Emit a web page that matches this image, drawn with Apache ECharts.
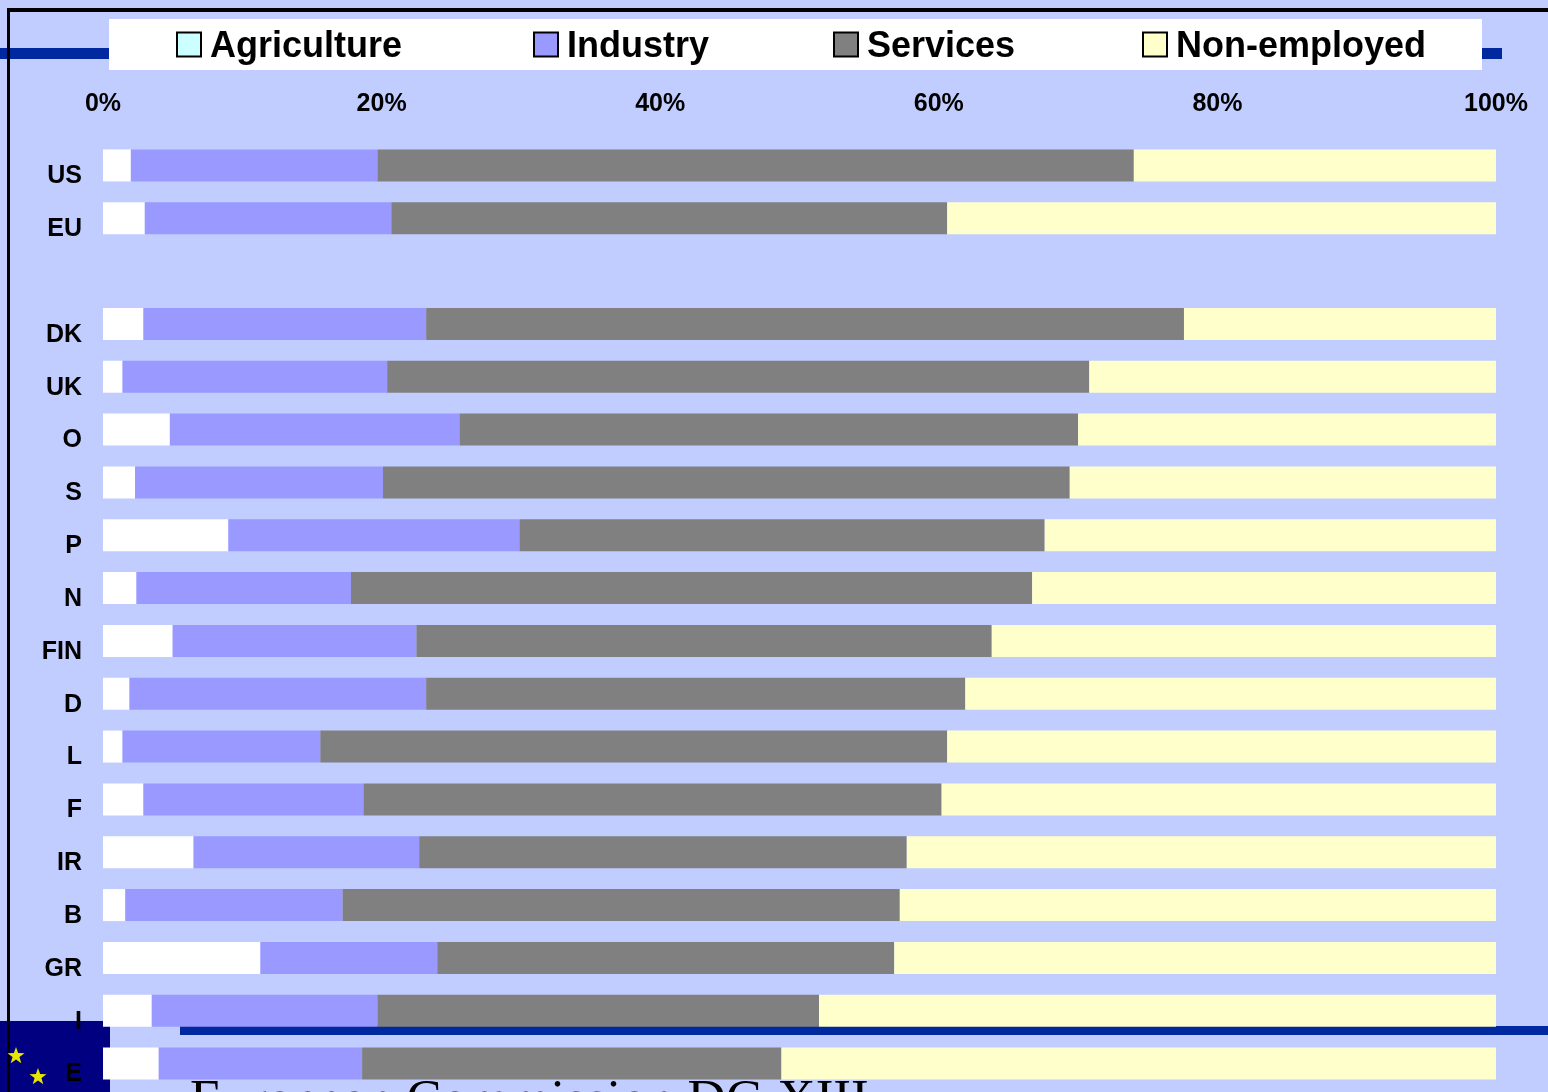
<!DOCTYPE html>
<html><head><meta charset="utf-8">
<style>html,body{margin:0;padding:0;background:#C1CDFF}#c{width:1548px;height:1092px}</style>
<script src="https://cdn.jsdelivr.net/npm/echarts@6/dist/echarts.min.js"></script>
</head><body><div id="c"></div>
<script>
const categories = ['US','EU','','DK','UK','O','S','P','N','FIN','D','L','F','IR','B','GR','I','E'];
const agriculture = [2.0,3.0,null,2.9,1.4,4.8,2.3,9.0,2.4,5.0,1.9,1.4,2.9,6.5,1.6,11.3,3.5,4.0];
const industry    = [17.7,17.7,null,20.3,19.0,20.8,17.8,20.9,15.4,17.5,21.3,14.2,15.8,16.2,15.6,12.7,16.2,14.6];
const services    = [54.3,39.9,null,54.4,50.4,44.4,49.3,37.7,48.9,41.3,38.7,45.0,41.5,35.0,40.0,32.8,31.7,30.1];
const nonEmployed = [26.0,39.4,null,22.4,29.2,30.0,30.6,32.4,33.3,36.2,38.1,39.4,39.8,42.3,42.8,43.2,48.6,51.3];
const seriesNames = ['Agriculture','Industry','Services','Non-employed'];
const tickLabelSuffix = '%';

const FONT = '"Liberation Sans", Arial, sans-serif';
const colors = ['#FFFFFF','#9999FF','#808080','#FFFFCC'];
const legendColors = ['#CCFFFF','#9999FF','#808080','#FFFFCC'];
const legendLeft = [176,533,833,1142];

function star(cx,cy,r){
  const pts=[];
  for(let i=0;i<10;i++){
    const a=-Math.PI/2+i*Math.PI/5, R=i%2?r*0.4:r;
    pts.push([cx+R*Math.cos(a),cy+R*Math.sin(a)]);
  }
  return {type:'polygon',z:-1,shape:{points:pts},style:{fill:'#E6E600'}};
}
const rect=(x,y,w,h,fill)=>({type:'rect',z:-1,shape:{x,y,width:w,height:h},style:{fill}});

const chart = echarts.init(document.getElementById('c'),null,{renderer:'canvas'});
chart.setOption({
  animation:false,
  backgroundColor:'#C1CDFF',
  grid:{left:103,right:52,top:139,bottom:2,containLabel:false},
  legend: seriesNames.map((n,i)=>({
    left:legendLeft[i], top:29, padding:0, itemWidth:24, itemHeight:24, itemGap:9,
    selectedMode:false,
    data:[{name:n,icon:'rect',itemStyle:{color:legendColors[i],borderColor:'#000',borderWidth:2}}],
    formatter:'{t|{name}}',
    textStyle:{fontFamily:FONT,fontWeight:'bold',fontSize:36,color:'#000',
      rich:{t:{fontFamily:FONT,fontWeight:'bold',fontSize:36,color:'#000',padding:[5,0,0,4]}}}
  })),
  xAxis:{type:'value',position:'top',min:0,max:100,interval:20,
    axisLine:{show:false},axisTick:{show:false},splitLine:{show:false},
    axisLabel:{formatter:v=>v+tickLabelSuffix,margin:22,color:'#000',fontFamily:FONT,fontWeight:'bold',fontSize:25}},
  yAxis:{type:'category',inverse:true,data:categories,
    axisLine:{show:false},axisTick:{show:false},splitLine:{show:false},
    axisLabel:{interval:0,margin:21,color:'#000',fontFamily:FONT,fontWeight:'bold',fontSize:25,verticalAlign:'top',lineHeight:22}},
  series:[agriculture,industry,services,nonEmployed].map((d,i)=>({
    name:seriesNames[i],type:'bar',stack:'total',data:d,barWidth:32,
    itemStyle:{color:colors[i]}
  })),
  graphic:{elements:[
    rect(0,48,109,11,'#0029A0'),
    rect(1482,48,20,11,'#0029A0'),
    rect(180,1026,1368,9,'#0029A0'),
    rect(0,1021,110,71,'#000080'),
    rect(109,19,1373,51,'#FFFFFF'),
    rect(7,8,1541,4,'#000000'),
    rect(7,8,3,1084,'#000000'),
    star(16,1056,9),
    star(38,1077,9),
    {type:'text',z:-1,x:190,y:1076,style:{text:'European Commission DG XIII',fontFamily:'"Liberation Serif", serif',fontSize:53,fill:'#000'}}
  ]}
});
</script></body></html>
